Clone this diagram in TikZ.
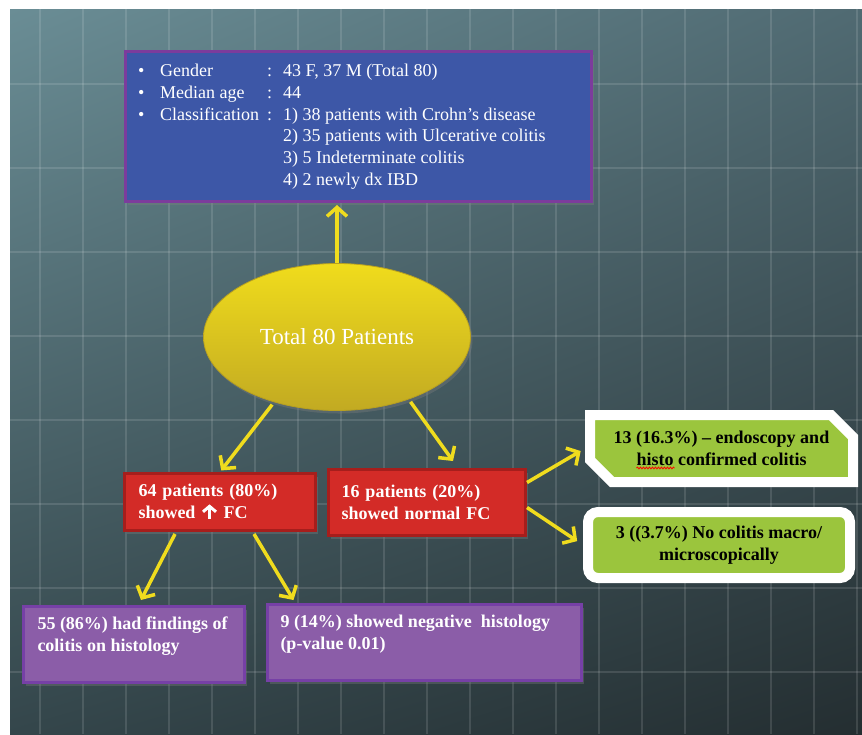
\documentclass[tikz,border=0pt]{standalone}
\usepackage{fontspec}
\setmainfont{Liberation Serif}
\usetikzlibrary{arrows.meta,shapes.geometric,shapes.misc,shadows,shadings,decorations.pathmorphing,calc}
\definecolor{bgTL}{HTML}{6A8D95}
\definecolor{bgTR}{HTML}{506A72}
\definecolor{bgBL}{HTML}{34464B}
\definecolor{bgBR}{HTML}{242E31}
\definecolor{bluefill}{HTML}{3D57A7}
\definecolor{blueborder}{HTML}{7C3C9C}
\definecolor{redfill}{HTML}{D32B27}
\definecolor{redborder}{HTML}{A61E1C}
\definecolor{purplefill}{HTML}{8B5DA8}
\definecolor{purpleborder}{HTML}{7640A6}
\definecolor{greenfill}{HTML}{9BC53D}
\definecolor{arrowyellow}{HTML}{F0DC1E}
\definecolor{elltop}{HTML}{F0DC1C}
\definecolor{ellbot}{HTML}{C2AA22}
\definecolor{ellborder}{HTML}{B8A020}
\tikzset{
  gridline/.style={draw=white, opacity=0.12, line width=1.3pt},
  shad/.style={drop shadow={shadow xshift=2pt, shadow yshift=-3pt, opacity=0.35}},
  boxfont/.style={font=\fontsize{18}{22}\selectfont\bfseries},
  bluebox/.style={draw=blueborder, fill=bluefill, line width=3pt, inner sep=0, shad},
  redbox/.style={draw=redborder, fill=redfill, line width=3pt, inner ysep=0, align=left, text=white, boxfont, shad},
  purplebox/.style={draw=purpleborder, fill=purplefill, line width=3pt, inner ysep=0, text=white, boxfont, shad},
  greenbox/.style={draw=white, fill=greenfill, line width=10pt, inner sep=0, align=center, text=black, boxfont},
  arr/.style={draw=arrowyellow, line width=3.5pt, -{Straight Barb[length=9pt,width=20pt]}}
}
\newcommand{\uparr}{\tikz[baseline=0pt]\draw[white, line width=3pt, -{Straight Barb[length=5.5pt,width=13pt]}] (0pt,-0.3pt) -- (0pt,14pt);}
\begin{document}
\begin{tikzpicture}[x=1pt,y=-1pt]
\useasboundingbox (0,0) rectangle (862,734);
\fill[white] (0,0) rectangle (862,734);
\shade[upper left=bgTL, upper right=bgTR, lower left=bgBL, lower right=bgBR] (10,9) rectangle (862,734);
\foreach \x in {40,83,...,857} \draw[gridline] (\x,9) -- (\x,734);
\foreach \y in {84,168,...,672} \draw[gridline] (10,\y) -- (862,\y);

% info box
\node[bluebox, minimum width=466, minimum height=150] (info) at (358.5,126.5) {};
\node[anchor=base west, inner sep=0, text=white, font=\fontsize{18}{21.7}\selectfont] (infotxt) at (138,76.7)
{\begin{tabular}[t]{@{}p{22pt}@{}p{107pt}@{}p{16pt}@{}l@{}}
\textbullet & Gender & : & 43 F, 37 M (Total 80)\\
\textbullet & Median age & : & 44\\
\textbullet & Classification & : & 1) 38 patients with Crohn’s disease\\
 & & & 2) 35 patients with Ulcerative colitis\\
 & & & 3) 5 Indeterminate colitis\\
 & & & 4) 2 newly dx IBD
\end{tabular}};

% ellipse
\node[ellipse, minimum width=267, minimum height=147, inner sep=0, top color=elltop, bottom color=ellbot,
  draw=ellborder, line width=0.8pt, text=white, font=\fontsize{23}{26}\selectfont, shad] (tot) at (337,337) {Total 80 Patients};

% red boxes
\node[redbox, minimum width=191, minimum height=57, inner xsep=14, text width=163] (r1) at (220,502)
  {64 patients (80\%)\\ showed \uparr\ FC};
\node[redbox, minimum width=197, minimum height=66, inner xsep=13, text width=171] (r2) at (427,502.5)
  {16 patients (20\%)\\ showed normal FC};

% green boxes
\node[greenbox, chamfered rectangle, chamfered rectangle corners={north east, south west},
  chamfered rectangle xsep=11pt, chamfered rectangle ysep=11pt, minimum width=263, minimum height=67] (g1) at (721.5,448.5)
  {13 (16.3\%) – endoscopy and\\ histo confirmed colitis};
\draw[red, line width=0.8pt, decorate, decoration={snake, amplitude=0.9pt, segment length=3pt}]
  ($(g1.center)+(-85,19.5)$) -- ($(g1.center)+(-47,19.5)$);
\node[greenbox, rounded corners=10pt, minimum width=262, minimum height=66] (g2) at (719,545)
  {3 ((3.7\%) No colitis macro/\\ microscopically};

% purple boxes
\node[purplebox, minimum width=221, minimum height=76, inner xsep=14] (p1) at (134,644.5)
  {\parbox[t][60pt][t]{193pt}{\strut 55 (86\%) had findings of\\ colitis on histology}};
\node[purplebox, minimum width=314, minimum height=76, inner xsep=13] (p2) at (424.5,642.5)
  {\parbox[t][60pt][t]{288pt}{\strut 9 (14\%) showed negative\ \ histology\\ (p-value 0.01)}};

% connectors
\coordinate (r2in) at ($(r2.north)+(26,-7)$);
\coordinate (p1in) at ($(p1.north)+(7,-5)$);
\coordinate (p2in) at ($(p2.north)+(-131,-3)$);
\draw[arr, shorten >=2pt] (tot.north) -- (tot.north |- info.south);
\draw[arr, shorten <=3pt, shorten >=2pt] (tot.226) -- (r1.north);
\draw[arr, shorten <=3pt] (tot.-41) -- (r2in);
\draw[arr, shorten >=5pt] ([yshift=20pt]r2.east) -- (g1.west);
\draw[arr, shorten >=7pt] ([yshift=-5pt]r2.east) -- (g2.west);
\draw[arr] ($(r1.south)+(-45,2)$) -- (p1in);
\draw[arr] ($(r1.south)+(34,2)$) -- (p2in);
\end{tikzpicture}
\end{document}
